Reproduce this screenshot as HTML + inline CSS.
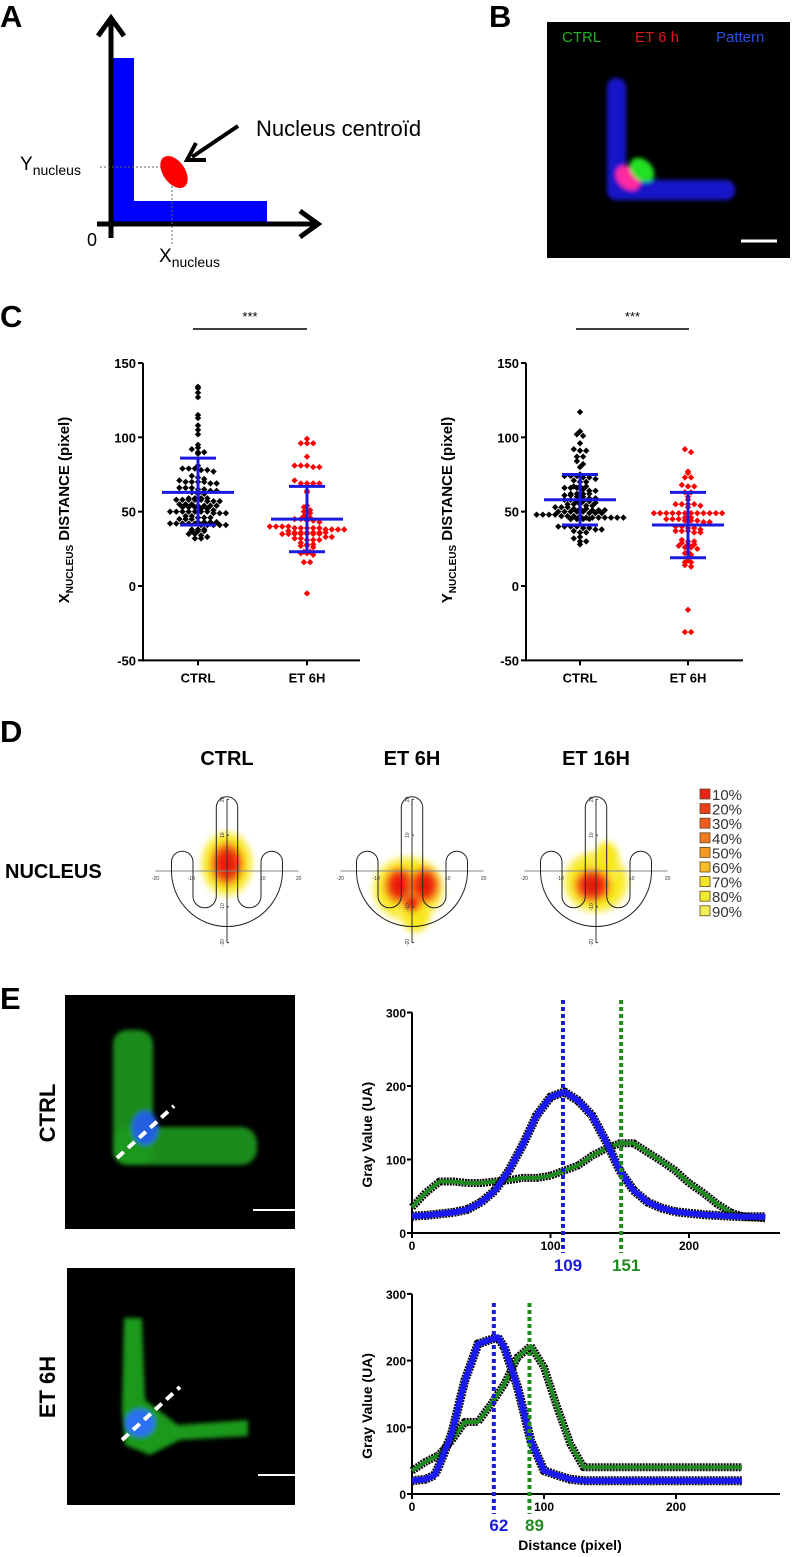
<!DOCTYPE html>
<html><head><meta charset="utf-8"><style>
html,body{margin:0;padding:0;background:#fff;}
svg{display:block;font-family:"Liberation Sans",Arial,sans-serif;}
</style></head><body>
<svg id="fig" width="800" height="1557" viewBox="0 0 800 1557" xmlns="http://www.w3.org/2000/svg">
<defs>
<filter id="blur2"><feGaussianBlur stdDeviation="2"/></filter>
<filter id="blur4"><feGaussianBlur stdDeviation="3"/></filter>
<radialGradient id="yel"><stop offset="0" stop-color="#f8e418"/><stop offset="0.7" stop-color="#f8ea20"/><stop offset="0.88" stop-color="#faf060" stop-opacity="0.85"/><stop offset="1" stop-color="#fff" stop-opacity="0"/></radialGradient>
<radialGradient id="red"><stop offset="0" stop-color="#ea1010"/><stop offset="0.5" stop-color="#ee2a10"/><stop offset="0.75" stop-color="#f57a18" stop-opacity="0.9"/><stop offset="1" stop-color="#f8c820" stop-opacity="0"/></radialGradient>
</defs>

<text x="0" y="27" font-size="31" font-weight="bold">A</text>
<text x="489" y="27" font-size="31" font-weight="bold">B</text>
<text x="0" y="327" font-size="31" font-weight="bold">C</text>
<text x="0" y="742" font-size="31" font-weight="bold">D</text>
<text x="0" y="1009" font-size="31" font-weight="bold">E</text>

<g>
<rect x="113" y="58" width="21" height="164" fill="#0000ff"/>
<rect x="113" y="201" width="154" height="21" fill="#0000ff"/>
<line x1="111" y1="238" x2="111" y2="20" stroke="#000" stroke-width="5"/>
<polyline points="98,36 111,18 124,36" fill="none" stroke="#000" stroke-width="5"/>
<line x1="97" y1="224" x2="318" y2="224" stroke="#000" stroke-width="5"/>
<polyline points="300,211 318,224 300,237" fill="none" stroke="#000" stroke-width="5"/>
<line x1="100" y1="167" x2="172" y2="167" stroke="#666" stroke-width="1" stroke-dasharray="2,2"/>
<line x1="172" y1="170" x2="172" y2="245" stroke="#666" stroke-width="1" stroke-dasharray="2,2"/>
<ellipse cx="174" cy="172" rx="11" ry="18" transform="rotate(-35 174 172)" fill="#ff0000"/>
<line x1="238" y1="126" x2="192" y2="157" stroke="#000" stroke-width="4"/>
<polyline points="196,143 187,160 206,160" fill="none" stroke="#000" stroke-width="4"/>
<text x="256" y="136" font-size="22">Nucleus centroïd</text>
<text x="20" y="170" font-size="19">Y<tspan font-size="14" dy="5">nucleus</tspan></text>
<text x="87" y="246" font-size="18">0</text>
<text x="159" y="262" font-size="19">X<tspan font-size="14" dy="5">nucleus</tspan></text>
</g>

<g>
<rect x="547" y="22" width="243" height="236" fill="#000"/>
<g filter="url(#blur2)">
<rect x="607" y="78" width="19" height="122" rx="9" fill="#1414c8"/>
<rect x="607" y="180" width="128" height="20" rx="9" fill="#1414c8"/>
<ellipse cx="628" cy="178" rx="10" ry="14" transform="rotate(-45 628 178)" fill="#ff2aa0"/>
<ellipse cx="642" cy="170" rx="10" ry="14" transform="rotate(-45 642 170)" fill="#22e022"/>
</g>
<text x="562" y="42" font-size="15" fill="#1db31d">CTRL</text>
<text x="635" y="42" font-size="15" fill="#e0161e">ET 6 h</text>
<text x="716" y="42" font-size="15" fill="#2b4fe0">Pattern</text>
<line x1="741" y1="241" x2="777" y2="241" stroke="#fff" stroke-width="3"/>
</g>

<g id="chartC1"></g>
<g id="chartC2"></g>
<g id="panelD"></g>

<g>
<rect x="65" y="995" width="230" height="234" fill="#000"/>
<g filter="url(#blur2)">
<rect x="113" y="1030" width="40" height="135" rx="14" fill="#1f9a1f" opacity="0.9"/>
<rect x="113" y="1127" width="144" height="38" rx="16" fill="#1f9a1f" opacity="0.9"/>
<ellipse cx="145" cy="1128" rx="13" ry="17" fill="#2060e0"/>
</g>
<line x1="117" y1="1158" x2="174" y2="1106" stroke="#fff" stroke-width="4" stroke-dasharray="9,6"/>
<line x1="253" y1="1210" x2="295" y2="1210" stroke="#fff" stroke-width="2"/>
</g>
<g>
<rect x="67" y="1268" width="228" height="237" fill="#000"/>
<g filter="url(#blur2)">
<path d="M124,1318 L142,1318 L145,1400 L178,1425 L248,1420 L248,1436 L180,1440 L150,1455 L125,1445 L122,1410 Z" fill="#1faa1f" opacity="0.9"/>
<ellipse cx="140" cy="1423" rx="15" ry="14" fill="#2a70f0"/>
</g>
<line x1="122" y1="1440" x2="180" y2="1387" stroke="#fff" stroke-width="4" stroke-dasharray="9,6"/>
<line x1="258" y1="1475" x2="295" y2="1475" stroke="#fff" stroke-width="2"/>
</g>
<text transform="translate(55,1113) rotate(-90)" text-anchor="middle" font-size="22" font-weight="bold">CTRL</text>
<text transform="translate(55,1387) rotate(-90)" text-anchor="middle" font-size="22" font-weight="bold">ET 6H</text>

<g id="chartE1"></g>
<g id="chartE2"></g>
</svg>

<script>
const cCategories = ["CTRL", "ET 6H"];
const cTicks = [150, 100, 50, 0, -50];
const xCtrl = [134,133,130,127,115,113,108,105,102,95,93,92,90,90,89,81,79,79,79,78,78,77,74,73,72,71,70,70,70,70,69,69,66,66,66,65,65,64,64,63,62,62,59,59,59,59,58,58,58,58,58,57,57,57,55,55,55,54,54,54,54,53,53,53,52,52,51,50,50,50,50,50,50,50,49,49,49,47,47,46,46,46,45,45,45,43,43,43,43,42,42,42,42,42,41,41,41,41,41,38,38,38,37,37,37,35,35,34,33,32,32];
const xEt = [99,96,96,96,87,81,81,81,80,80,71,69,69,69,69,64,63,54,53,51,50,49,47,46,45,45,44,44,43,40,40,40,40,39,39,39,39,39,38,38,38,38,37,36,36,36,36,36,36,35,35,35,35,35,35,35,33,33,32,32,31,31,31,29,28,28,27,27,26,23,23,22,22,21,16,16,-5];
const yCtrl = [117,104,102,101,96,92,91,91,87,87,84,82,80,75,74,74,74,73,73,72,71,70,70,67,67,67,66,66,66,65,64,64,62,62,62,62,61,61,60,60,59,59,58,58,57,57,57,56,55,55,55,54,54,53,53,53,52,52,52,51,51,51,50,50,50,50,50,49,49,49,48,48,48,48,47,47,47,47,46,46,46,46,46,46,46,45,45,45,45,40,40,40,40,39,39,38,38,37,36,36,33,32,30,30,28];
const yEt = [92,90,77,76,73,73,68,67,67,63,63,60,58,55,55,55,55,54,53,49,49,49,49,49,49,49,49,49,49,49,49,46,46,45,45,45,44,44,44,43,43,40,40,39,39,38,37,37,37,36,36,31,30,30,29,28,28,27,26,26,25,23,22,21,17,16,16,14,13,-16,-31,-31];
const xStats = [[63,41,86],[45,23,67]];
const yStats = [[58,41,75],[41,19,63]];

const e1Dist = [0,10,20,30,40,50,60,70,80,90,100,110,120,130,140,150,160,170,180,190,200,210,220,230,240,255];
const e1Green = [35,55,70,70,68,68,70,72,75,75,78,85,92,105,115,122,122,110,98,85,68,55,40,28,22,20];
const e1Blue = [23,24,26,28,32,42,58,85,120,160,185,192,180,160,125,85,58,42,34,29,27,25,24,23,22,22];
const e1Ticks = [0,100,200,300];
const e1XTicks = [0,100,200];
const e1Peaks = [109,151];
const e2Dist = [0,10,17,20,30,40,50,60,65,70,80,90,100,110,120,130,150,200,250];
const e2Blue = [20,22,28,40,90,170,225,232,235,220,160,80,35,28,22,20,20,20,20];
const e2Green = [35,48,55,58,80,108,108,135,150,165,205,222,190,130,75,40,40,40,40];
const e2Peaks = [62,89];

const NS = "http://www.w3.org/2000/svg";
function mk(parent, tag, attrs, text){
  const e = document.createElementNS(NS, tag);
  for (const k in attrs) e.setAttribute(k, attrs[k]);
  if (text !== undefined) e.textContent = text;
  parent.appendChild(e);
  return e;
}

function drawScatter(gid, axisX, catX, labelMain, vals, stats, sigX1, sigX2){
  const g = document.getElementById(gid);
  const yS = v => 586 - (v * 223 / 150);
  const axis = mk(g, "line", {x1:axisX, y1:yS(150), x2:axisX, y2:yS(-50)+1, stroke:"#000","stroke-width":2});
  
  
  const xax = mk(g, "line", {x1:axisX, y1:yS(-50), x2:axisX+217, y2:yS(-50), stroke:"#000","stroke-width":2});
  
  
  cTicks.forEach(t => {
    const tk = mk(g, "line", {x1:axisX-5, y1:yS(t), x2:axisX, y2:yS(t), stroke:"#000","stroke-width":2});
    
    
    const tl = mk(g, "text", {x:axisX-7, y:yS(t)+5, "text-anchor":"end","font-size":13,"font-weight":"bold"}, String(t));
    
    
  });
  cCategories.forEach((c, i) => {
    const tk = mk(g, "line", {x1:catX[i], y1:yS(-50), x2:catX[i], y2:yS(-50)+5, stroke:"#000","stroke-width":2});
    
    
    const tl = mk(g, "text", {x:catX[i], y:yS(-50)+22, "text-anchor":"middle","font-size":13,"font-weight":"bold"}, c);
    
    
  });
  const yl = mk(g, "text", {transform:`translate(${axisX-74},510) rotate(-90)`, "text-anchor":"middle","font-size":15,"font-weight":"bold"});
  
  
  mk(yl, "tspan", {}, labelMain);
  mk(yl, "tspan", {"font-size":10, dy:4}, "NUCLEUS");
  mk(yl, "tspan", {dy:-4}, " DISTANCE (pixel)");
  const sb = mk(g, "line", {x1:sigX1, y1:329, x2:sigX2, y2:329, stroke:"#000","stroke-width":1.5});
  
  
  const st = mk(g, "text", {x:(sigX1+sigX2)/2, y:321, "text-anchor":"middle","font-size":13}, "***");
  
  
  const colors = ["#000", "#f00"];
  vals.forEach((arr, i) => {
    const bins = {};
    arr.forEach(v => { const b = Math.round(v / 2.6); (bins[b] = bins[b] || []).push(v); });
    Object.keys(bins).forEach(b => {
      const list = bins[b];
      const n = list.length;
      list.forEach((v, j) => {
        const px = catX[i] + (j - (n - 1) / 2) * 6.2;
        const py = yS(v);
        const d = mk(g, "path", {d:`M${px},${py-3.2}L${px+3.2},${py}L${px},${py+3.2}L${px-3.2},${py}Z`, fill:colors[i]});
        
        
      });
    });
    const [m, lo, hi] = stats[i];
    const bl = "#1a1ae0";
    const e1 = mk(g, "line", {x1:catX[i], y1:yS(hi), x2:catX[i], y2:yS(lo), stroke:bl, "stroke-width":3});
    
    
    const e2 = mk(g, "line", {x1:catX[i]-18, y1:yS(hi), x2:catX[i]+18, y2:yS(hi), stroke:bl, "stroke-width":3});
    
    
    const e3 = mk(g, "line", {x1:catX[i]-18, y1:yS(lo), x2:catX[i]+18, y2:yS(lo), stroke:bl, "stroke-width":3});
    
    
    const e4 = mk(g, "line", {x1:catX[i]-36, y1:yS(m), x2:catX[i]+36, y2:yS(m), stroke:bl, "stroke-width":3});
    
    
  });
}
drawScatter("chartC1", 143, [198, 307], "X", [xCtrl, xEt], xStats, 193, 307);
drawScatter("chartC2", 526, [580, 688], "Y", [yCtrl, yEt], yStats, 576, 689);

const dConditions = ["CTRL", "ET 6H", "ET 16H"];
const dCenters = [227, 412, 596];
const dBlobs = [
  [[0,2,8,10,"yel"],[0,2,5.5,7,"red"]],
  [[-1,-5,11,10,"yel"],[1,-11,5,7,"yel"],[-3.5,-4,5,6,"red"],[3.5,-4,5,6,"red"],[0,-9,3,3,"red"]],
  [[0,-3,10,9.5,"yel"],[3,3,4,6,"yel"],[-1,-4,6,5.5,"red"]]
];
const legendLabels = ["10%","20%","30%","40%","50%","60%","70%","80%","90%"];
const legendColors = ["#e8241c","#ea3e1c","#ef5c1f","#f17a22","#f39c24","#f5bd28","#f4e42a","#eeea2d","#eeee55"];
(function(){
  const g = document.getElementById("panelD");
  const s = 3.58, cy = 871;
  const nl = mk(g, "text", {x:5, y:878, "font-size":20, "font-weight":"bold"}, "NUCLEUS");
  
  
  dConditions.forEach((c, i) => {
    const cx = dCenters[i];
    const P = (u, v) => `${(cx + u*s).toFixed(1)},${(cy - v*s).toFixed(1)}`;
    const h = mk(g, "text", {x:cx, y:765, "text-anchor":"middle","font-size":20,"font-weight":"bold"}, c);
    
    
    const hg = mk(g, "g", {filter:"url(#blur4)"});
    
    
    dBlobs[i].forEach(b => {
      const e = mk(hg, "ellipse", {cx:cx + b[0]*s, cy:cy - b[1]*s, rx:b[2]*s, ry:b[3]*s, fill:`url(#${b[4]})`});
      
      
    });
    const ax1 = mk(g, "line", {x1:cx-20*s, y1:cy, x2:cx+20*s, y2:cy, stroke:"#888","stroke-width":1});
    
    
    const ax2 = mk(g, "line", {x1:cx, y1:cy-20*s, x2:cx, y2:cy+20*s, stroke:"#333","stroke-width":1});
    
    
    [-20,-10,10,20].forEach(t => {
      const tx = mk(g, "text", {x:cx + t*s, y:cy+9, "text-anchor":"middle","font-size":5,fill:"#333"}, String(t));
      
      
      const ty = mk(g, "text", {transform:`translate(${cx-3},${cy - t*s}) rotate(-90)`, "text-anchor":"middle","font-size":5,fill:"#333"}, String(t));
      
      
      const tk = mk(g, "line", {x1:cx, y1:cy - t*s, x2:cx+2, y2:cy - t*s, stroke:"#333","stroke-width":1});
      
      
    });
    const r = 3*s, R = 15.5*s;
    const d = `M${P(-3,18)} A${r},${r} 0 0 1 ${P(3,18)} L${P(3,-7)} A${3.25*s},${3.25*s} 0 0 0 ${P(9.5,-7)} L${P(9.5,2.5)} A${r},${r} 0 0 1 ${P(15.5,2.5)} L${P(15.5,0)} A${R},${R} 0 0 1 ${P(-15.5,0)} L${P(-15.5,2.5)} A${r},${r} 0 0 1 ${P(-9.5,2.5)} L${P(-9.5,-7)} A${3.25*s},${3.25*s} 0 0 0 ${P(-3,-7)} Z`;
    const sh = mk(g, "path", {d:d, fill:"none", stroke:"#222", "stroke-width":1});
    
    
  });
  legendLabels.forEach((l, i) => {
    const y = 795 + i * 14.6;
    const bx = mk(g, "rect", {x:700, y:y-6, width:10, height:10, fill:legendColors[i], stroke:"#6a4a20", "stroke-width":0.8});
    
    
    const t = mk(g, "text", {x:712, y:y+5, "font-size":15, fill:"#333"}, l);
    
    
  });
})();

function drawProfile(gid, y0, yPer100, xPer1, dist, green, blue, peaks, vTop, peakLabelY, showTitle){
  const g = document.getElementById(gid);
  const X = v => 412 + v * xPer1;
  const Y = v => y0 - v * yPer100 / 100;
  const ya = mk(g, "line", {x1:412, y1:Y(300), x2:412, y2:Y(0)+1, stroke:"#000","stroke-width":2});
  
  
  const xa = mk(g, "line", {x1:411, y1:Y(0), x2:780, y2:Y(0), stroke:"#000","stroke-width":2});
  
  
  e1Ticks.forEach(t => {
    const tk = mk(g, "line", {x1:407, y1:Y(t), x2:412, y2:Y(t), stroke:"#000","stroke-width":2});
    
    
    const tl = mk(g, "text", {x:406, y:Y(t)+5, "text-anchor":"end","font-size":12,"font-weight":"bold"}, String(t));
    
    
  });
  e1XTicks.forEach(t => {
    const tk = mk(g, "line", {x1:X(t), y1:Y(0), x2:X(t), y2:Y(0)+5, stroke:"#000","stroke-width":2});
    
    
    const tl = mk(g, "text", {x:X(t), y:Y(0)+17, "text-anchor":"middle","font-size":12,"font-weight":"bold"}, String(t));
    
    
  });
  const ytl = mk(g, "text", {transform:`translate(372,${(Y(0)+Y(300))/2+12}) rotate(-90)`, "text-anchor":"middle","font-size":14,"font-weight":"bold"}, "Gray Value (UA)");
  
  
  const pts = (xs, ys) => xs.map((d, i) => `${X(d).toFixed(1)},${Y(ys[i]).toFixed(1)}`).join(" ");
  const gb = mk(g, "polyline", {points:pts(dist, green), fill:"none", stroke:"#000", "stroke-width":8, "stroke-linejoin":"round", "stroke-dasharray":"2,1"});
  
  
  const gl = mk(g, "polyline", {points:pts(dist, green), fill:"none", stroke:"#1f8a1f", "stroke-width":4, "stroke-linejoin":"round"});
  
  
  const bb = mk(g, "polyline", {points:pts(dist, blue), fill:"none", stroke:"#000", "stroke-width":9, "stroke-linejoin":"round", "stroke-dasharray":"2,1"});
  
  
  const bl = mk(g, "polyline", {points:pts(dist, blue), fill:"none", stroke:"#1a1af0", "stroke-width":6, "stroke-linejoin":"round"});
  
  
  const pc = ["#1a1ae0", "#238a1f"];
  peaks.forEach((p, i) => {
    const vl = mk(g, "line", {x1:X(p), y1:vTop, x2:X(p), y2:Y(0)+20, stroke:pc[i], "stroke-width":4, "stroke-dasharray":"4,3"});
    
    
    const pl = mk(g, "text", {x:X(p)+5, y:peakLabelY, "text-anchor":"middle","font-size":17,"font-weight":"bold",fill:pc[i]}, String(p));
    
    
  });
  if (showTitle){
    const xt = mk(g, "text", {x:570, y:1550, "text-anchor":"middle","font-size":14,"font-weight":"bold"}, "Distance (pixel)");
    
    
  }
}
drawProfile("chartE1", 1233, 73.5, 1.385, e1Dist, e1Green, e1Blue, e1Peaks, 1000, 1271, false);
drawProfile("chartE2", 1494, 66.7, 1.32, e2Dist, e2Green, e2Blue, e2Peaks, 1303, 1531, true);
</script>
</body></html>
